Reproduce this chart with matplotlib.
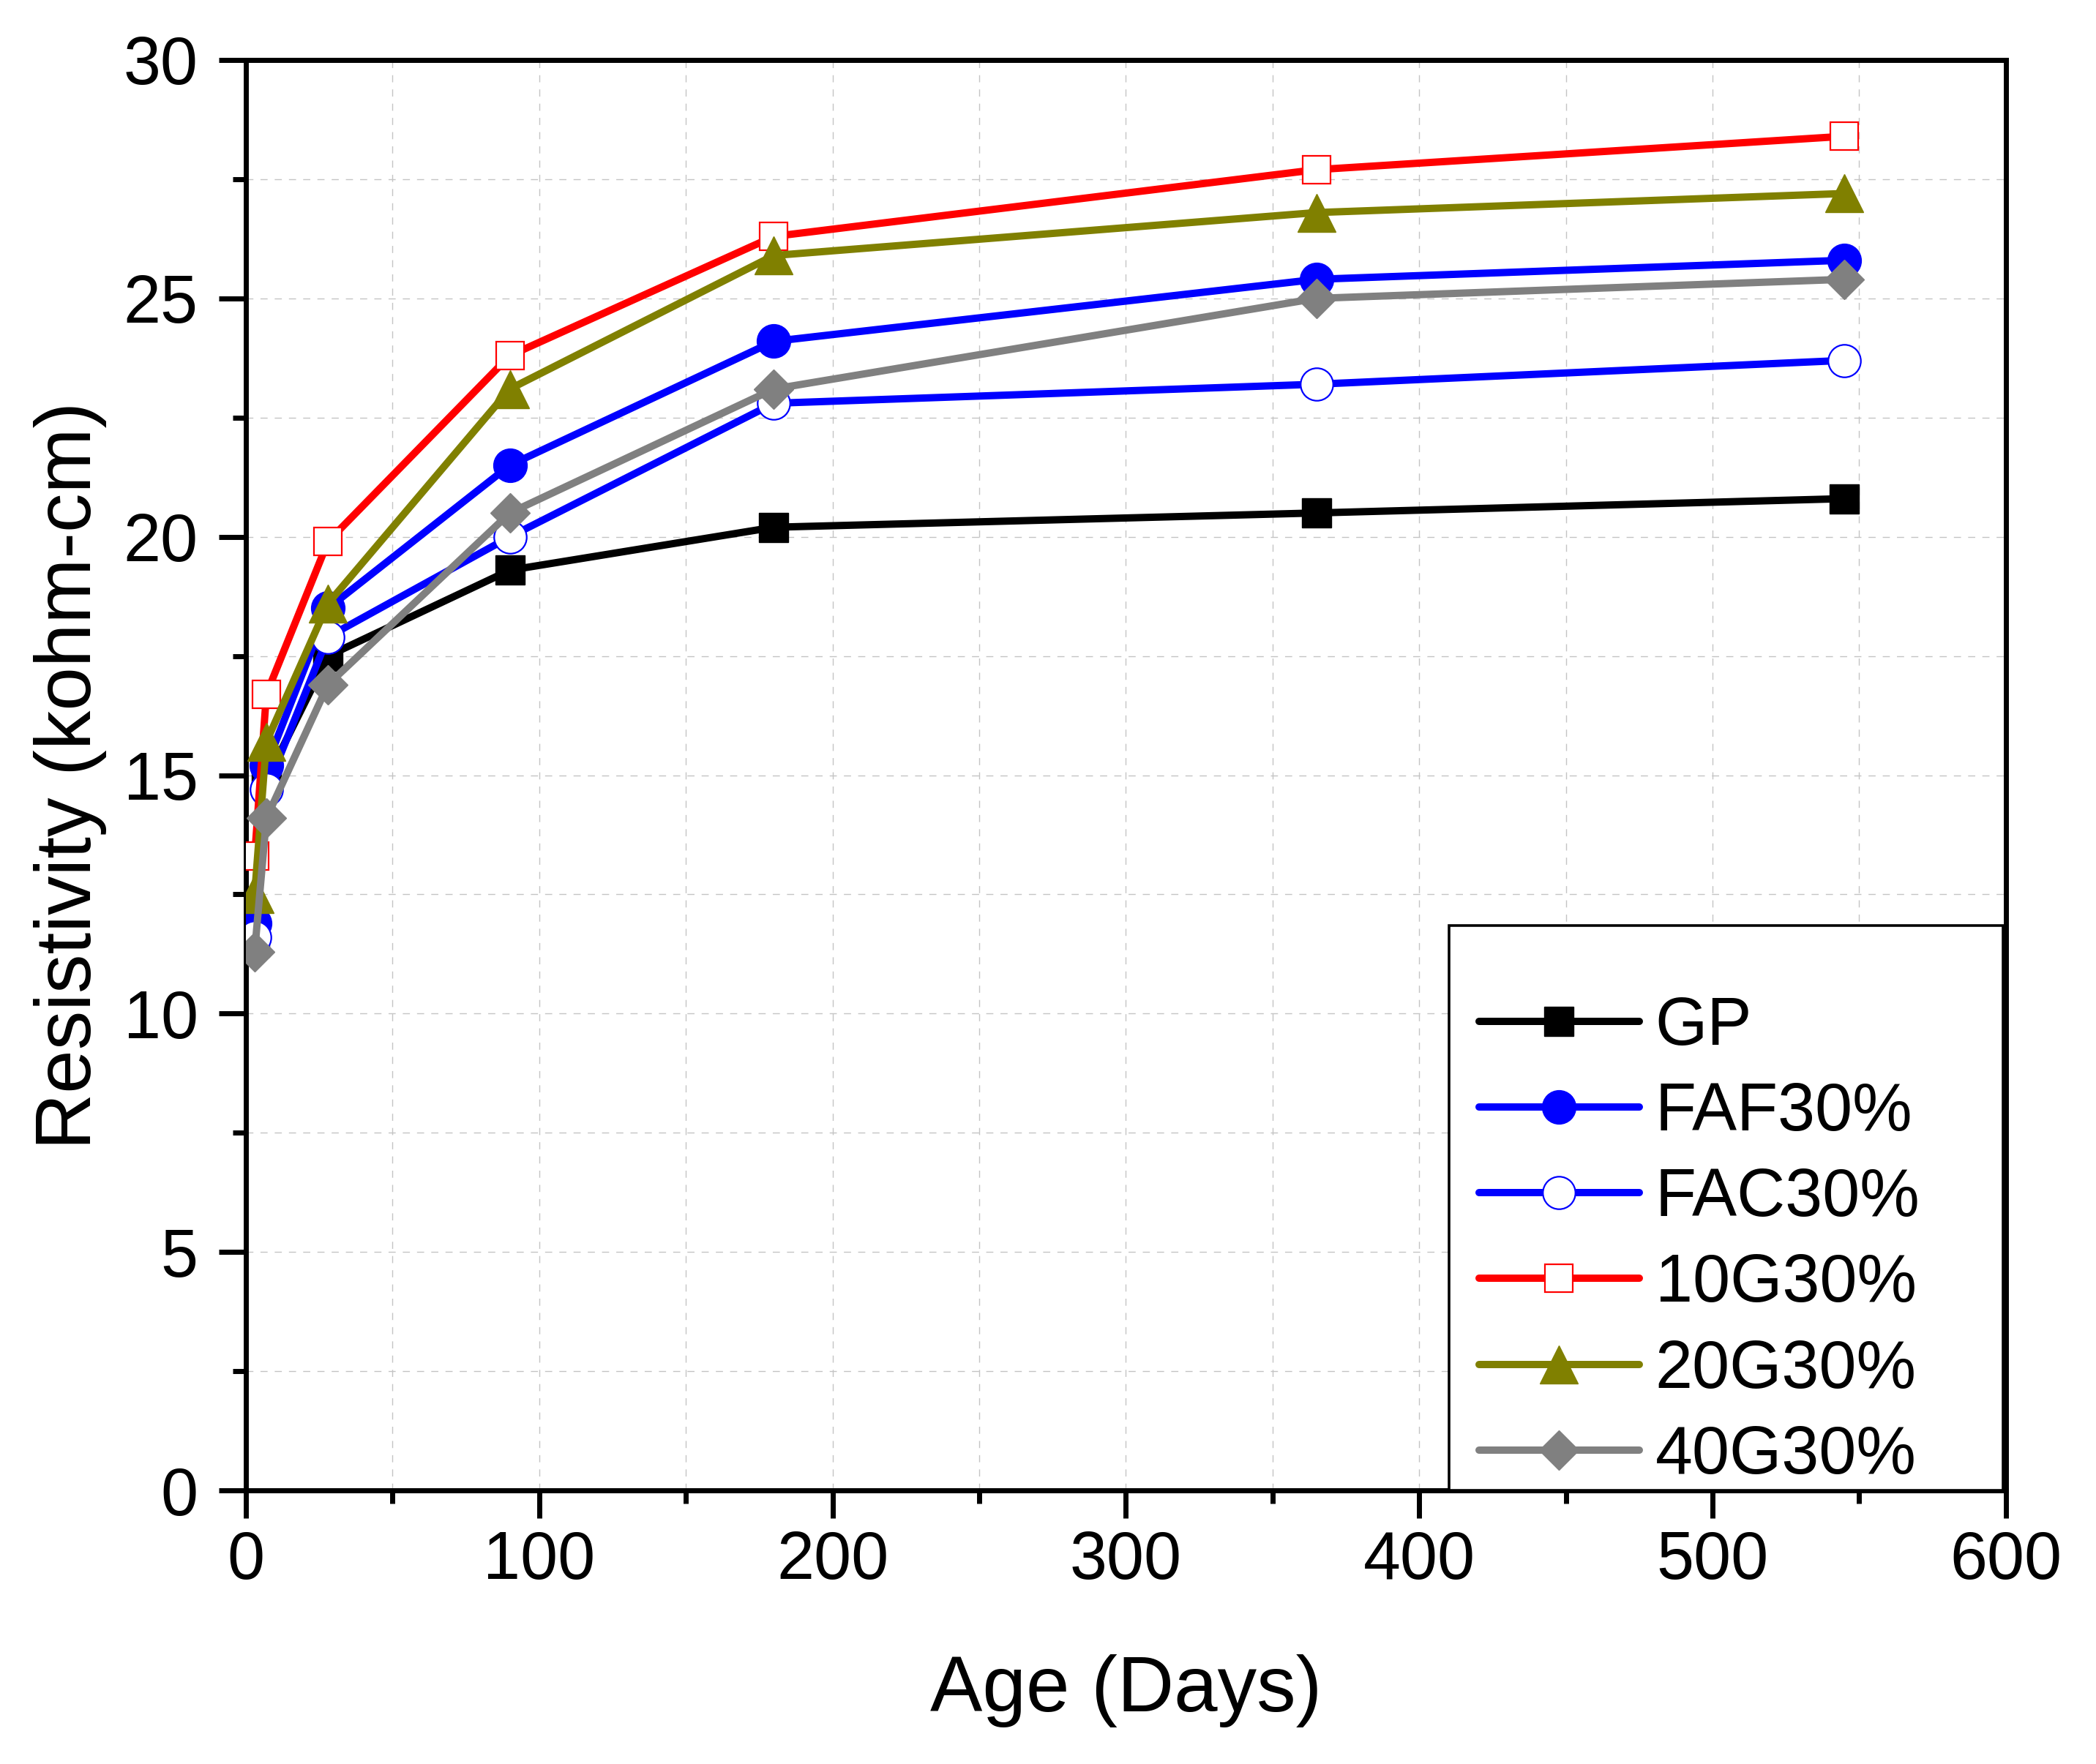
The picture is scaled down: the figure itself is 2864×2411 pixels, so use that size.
import matplotlib.pyplot as plt
from matplotlib.patches import Rectangle
from matplotlib.ticker import MultipleLocator

plt.rcParams['font.family'] = ['Liberation Sans', 'DejaVu Sans']

# Data (age in days, resistivity in kohm-cm)
age = [3, 7, 28, 90, 180, 365, 545]
gp = [11.5, 14.9, 17.5, 19.3, 20.2, 20.5, 20.8]
faf30 = [11.9, 15.2, 18.5, 21.5, 24.1, 25.4, 25.8]
fac30 = [11.6, 14.7, 17.9, 20.0, 22.8, 23.2, 23.7]
g10_30 = [13.3, 16.7, 19.9, 23.8, 26.3, 27.7, 28.4]
g20_30 = [12.5, 15.7, 18.6, 23.1, 25.9, 26.8, 27.2]
g40_30 = [11.3, 14.1, 16.9, 20.5, 23.1, 25.0, 25.4]

fig = plt.figure(figsize=(28.64, 24.11), dpi=100)
ax = fig.add_axes([0.1173, 0.1551, 0.8397, 0.8109])

lw = 7.2
style = dict(lw=lw, solid_capstyle='round', solid_joinstyle='round', zorder=3)
ax.plot(age, gp, color='black', marker='s', ms=29, label='GP', **style)
ax.plot(age, faf30, color='blue', marker='o', ms=33, label='FAF30%', **style)
ax.plot(age, fac30, color='blue', marker='o', ms=32, mfc='white',
        mec='blue', mew=1.6, label='FAC30%', **style)
ax.plot(age, g10_30, color='red', marker='s', ms=28, mfc='white',
        mec='red', mew=1.6, label='10G30%', **style)
ax.plot(age, g20_30, color='#808000', marker='^', ms=37, label='20G30%', **style)
ax.plot(age, g40_30, color='#808080', marker='D', ms=27, label='40G30%', **style)

ax.set_xlim(0, 600)
ax.set_ylim(0, 30)
ax.xaxis.set_major_locator(MultipleLocator(100))
ax.xaxis.set_minor_locator(MultipleLocator(50))
ax.yaxis.set_major_locator(MultipleLocator(5))
ax.yaxis.set_minor_locator(MultipleLocator(2.5))

ax.grid(True, which='both', color='#c4c4c4', linestyle=(0, (7, 7)), lw=1.0, zorder=0)
ax.set_axisbelow(True)

for s in ax.spines.values():
    s.set_linewidth(5)
ax.tick_params(which='major', direction='out', length=27, width=5, labelsize=66)
ax.tick_params(axis='x', which='major', pad=12)
ax.tick_params(axis='y', which='major', pad=20)
ax.tick_params(which='minor', direction='out', length=13, width=5)

ax.set_xlabel('Age (Days)', fontsize=77, labelpad=60)
ax.set_ylabel('Resistivity (kohm-cm)', fontsize=77, labelpad=16)

# legend box drawn separately, entries placed inside it
ax.add_patch(Rectangle((0.6836, 0.0), 0.3147, 0.3949, transform=ax.transAxes,
                       facecolor='white', edgecolor='black', lw=2.6, zorder=4))
leg = ax.legend(loc='center left', bbox_to_anchor=(0.7005, 0.174), fontsize=66,
                frameon=False, handlelength=2.39, numpoints=1, borderpad=0,
                borderaxespad=0, labelspacing=0.34, handletextpad=0.24)
leg.set_zorder(5)

fig.savefig('out.png', dpi=100)
